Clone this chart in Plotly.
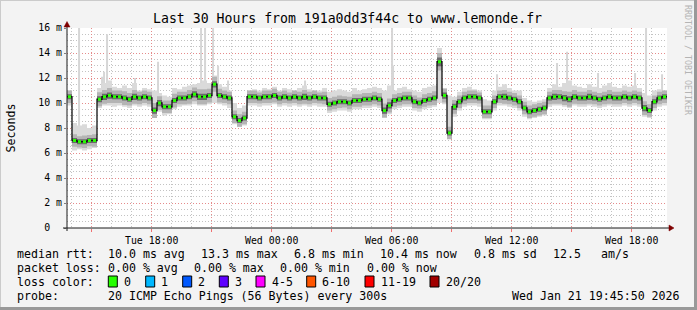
import plotly.graph_objects as go
import pandas as pd

MONO = "DejaVu Sans Mono"

# ---------------- data ----------------
START = "2026-01-20 13:45:50"
END = "2026-01-21 19:45:50"
STEP = "15min"

median_ms = [
    10.5, 7.0, 6.9, 6.9, 7.0, 7.0, 10.3, 10.5, 10.6, 10.5,
    10.5, 10.4, 10.3, 10.5, 10.4, 10.5, 10.4, 9.4, 10.0, 9.7,
    9.7, 10.2, 10.4, 10.4, 10.5, 10.7, 10.5, 10.5, 10.6, 11.5,
    10.6, 10.5, 10.4, 8.9, 8.6, 8.8, 10.5, 10.5, 10.4, 10.5,
    10.5, 10.6, 10.4, 10.5, 10.4, 10.5, 10.4, 10.5, 10.4, 10.5,
    10.4, 10.4, 9.9, 10.0, 10.1, 10.1, 10.0, 10.2, 10.2, 10.3,
    10.3, 10.4, 10.3, 9.4, 9.8, 10.2, 10.3, 10.4, 10.4, 10.1,
    10.0, 10.2, 10.3, 10.4, 13.3, 10.6, 7.6, 9.7, 10.1, 10.4,
    10.5, 10.5, 10.4, 9.3, 9.3, 10.1, 10.5, 10.5, 10.4, 10.3,
    10.1, 9.6, 9.3, 9.4, 9.5, 9.6, 10.4, 10.5, 10.5, 10.4,
    10.3, 10.5, 10.4, 10.4, 10.5, 10.4, 10.3, 10.4, 10.5, 10.4,
    10.4, 10.5, 10.4, 10.5, 10.4, 9.6, 9.4, 10.1, 10.4, 10.5,
]

smoke_max_ms = [
    11.0, 8.4, 8.2, 8.3, 8.0, 8.2, 11.2, 11.6, 11.8, 11.3,
    11.2, 11.4, 11.2, 11.6, 11.0, 11.2, 11.1, 11.0, 10.8, 10.6,
    10.5, 11.2, 11.1, 11.3, 11.4, 11.5, 11.6, 11.8, 11.6, 12.2,
    11.5, 11.3, 11.0, 10.0, 9.6, 9.8, 11.0, 11.1, 11.0, 11.2,
    11.1, 11.3, 11.0, 11.2, 11.1, 11.0, 11.2, 11.4, 11.1, 11.0,
    11.0, 11.2, 10.9, 11.0, 11.1, 11.0, 10.9, 11.2, 11.0, 11.1,
    11.2, 11.3, 11.2, 11.0, 11.4, 11.0, 11.2, 11.3, 11.1, 11.0,
    10.9, 11.2, 11.3, 11.4, 14.4, 11.2, 10.6, 10.5, 10.9, 11.2,
    11.3, 11.1, 11.0, 10.3, 10.2, 11.0, 11.3, 11.5, 11.2, 11.0,
    11.0, 10.4, 10.2, 10.1, 10.2, 10.3, 11.2, 11.5, 11.3, 11.6,
    11.8, 11.4, 11.3, 11.2, 11.5, 11.3, 11.2, 11.4, 11.6, 11.3,
    11.2, 11.4, 11.3, 11.4, 11.2, 10.8, 10.6, 11.0, 11.1, 11.0,
]

smoke_min_ms = [
    9.8, 6.2, 6.3, 6.2, 6.3, 6.4, 9.6, 9.8, 9.8, 9.7,
    9.8, 9.7, 9.6, 9.8, 9.7, 9.8, 9.7, 8.9, 9.3, 9.0,
    9.1, 9.5, 9.7, 9.8, 9.8, 9.9, 9.8, 9.8, 9.9, 10.0,
    9.9, 9.8, 9.6, 8.3, 8.1, 8.2, 9.8, 9.8, 9.7, 9.8,
    9.8, 9.9, 9.7, 9.8, 9.7, 9.8, 9.7, 9.8, 9.7, 9.8,
    9.7, 9.7, 9.2, 9.3, 9.4, 9.4, 9.3, 9.5, 9.5, 9.6,
    9.6, 9.7, 9.6, 8.8, 9.1, 9.5, 9.6, 9.7, 9.7, 9.4,
    9.3, 9.5, 9.6, 9.7, 10.0, 9.9, 7.2, 8.9, 9.4, 9.7,
    9.8, 9.8, 9.7, 8.7, 8.7, 9.4, 9.8, 9.8, 9.7, 9.6,
    9.4, 8.9, 8.7, 8.8, 8.9, 9.0, 9.7, 9.8, 9.8, 9.7,
    9.6, 9.8, 9.7, 9.7, 9.8, 9.7, 9.6, 9.7, 9.8, 9.7,
    9.7, 9.8, 9.7, 9.8, 9.7, 8.9, 8.8, 9.4, 9.7, 9.8,
]

# half-width of the medium-grey smoke band around the median
mid_spread_ms = [
    0.5, 0.5, 0.45, 0.5, 0.45, 0.5, 0.55, 0.55, 0.6, 0.5,
    0.5, 0.55, 0.5, 0.55, 0.5, 0.5, 0.5, 0.6, 0.55, 0.5,
    0.5, 0.55, 0.5, 0.5, 0.55, 0.55, 0.6, 0.6, 0.55, 0.6,
    0.55, 0.5, 0.5, 0.5, 0.5, 0.5, 0.5, 0.5, 0.45, 0.5,
    0.5, 0.55, 0.5, 0.5, 0.45, 0.5, 0.5, 0.55, 0.5, 0.5,
    0.45, 0.5, 0.5, 0.5, 0.5, 0.45, 0.5, 0.5, 0.5, 0.5,
    0.5, 0.5, 0.5, 0.55, 0.55, 0.5, 0.5, 0.5, 0.5, 0.5,
    0.45, 0.5, 0.5, 0.55, 0.7, 0.55, 0.5, 0.55, 0.5, 0.5,
    0.5, 0.5, 0.45, 0.5, 0.5, 0.5, 0.5, 0.55, 0.5, 0.5,
    0.5, 0.5, 0.5, 0.5, 0.5, 0.5, 0.5, 0.55, 0.55, 0.55,
    0.6, 0.55, 0.5, 0.5, 0.55, 0.5, 0.5, 0.5, 0.55, 0.5,
    0.5, 0.5, 0.5, 0.5, 0.5, 0.55, 0.5, 0.5, 0.5, 0.5,
]

# half-width of the dark smoke core around the median
core_spread_ms = [
    0.2, 0.2, 0.2, 0.2, 0.2, 0.2, 0.25, 0.25, 0.25, 0.2,
    0.2, 0.2, 0.2, 0.25, 0.2, 0.2, 0.2, 0.25, 0.25, 0.2,
    0.2, 0.2, 0.2, 0.2, 0.2, 0.25, 0.25, 0.25, 0.2, 0.25,
    0.2, 0.2, 0.2, 0.2, 0.2, 0.2, 0.2, 0.2, 0.2, 0.2,
    0.2, 0.2, 0.2, 0.2, 0.2, 0.2, 0.2, 0.25, 0.2, 0.2,
    0.2, 0.2, 0.2, 0.2, 0.2, 0.2, 0.2, 0.2, 0.2, 0.2,
    0.2, 0.2, 0.2, 0.25, 0.25, 0.2, 0.2, 0.2, 0.2, 0.2,
    0.2, 0.2, 0.2, 0.2, 0.35, 0.25, 0.2, 0.25, 0.2, 0.2,
    0.2, 0.2, 0.2, 0.2, 0.2, 0.2, 0.2, 0.25, 0.2, 0.2,
    0.2, 0.2, 0.2, 0.2, 0.2, 0.2, 0.2, 0.25, 0.2, 0.25,
    0.25, 0.2, 0.2, 0.2, 0.25, 0.2, 0.2, 0.2, 0.2, 0.2,
    0.2, 0.2, 0.2, 0.2, 0.2, 0.25, 0.2, 0.2, 0.2, 0.2,
]

spike_time = [
    "2026-01-20 14:22", "2026-01-20 15:31", "2026-01-20 15:37", "2026-01-20 15:46",
    "2026-01-20 17:10", "2026-01-20 18:19", "2026-01-20 20:28", "2026-01-20 20:40",
    "2026-01-20 21:04", "2026-01-20 21:19", "2026-01-20 21:49", "2026-01-21 01:40",
    "2026-01-21 06:01", "2026-01-21 06:04", "2026-01-21 11:16", "2026-01-21 14:16",
    "2026-01-21 14:46", "2026-01-21 16:19", "2026-01-21 18:10", "2026-01-21 18:43",
    "2026-01-21 19:31",
]
spike_base_ms = [8.0, 10.5, 10.5, 10.5, 10.4, 10.2, 10.5, 10.5, 10.6, 10.6, 10.4,
                 10.4, 9.6, 9.8, 10.5, 10.5, 10.4, 10.5, 10.4, 9.6, 10.5]
spike_top_ms = [16.0, 12.1, 12.5, 15.5, 12.0, 13.3, 16.0, 16.0, 16.0, 13.0, 11.8,
                11.8, 16.0, 13.0, 12.3, 13.2, 14.1, 12.4, 12.4, 16.0, 12.3]

x_tickvals = ["2026-01-20 15:00", "2026-01-20 18:00", "2026-01-20 21:00",
              "2026-01-21 00:00", "2026-01-21 03:00", "2026-01-21 06:00",
              "2026-01-21 09:00", "2026-01-21 12:00", "2026-01-21 15:00",
              "2026-01-21 18:00"]
x_ticktext = ["", "Tue 18:00", "", "Wed 00:00", "", "Wed 06:00", "",
              "Wed 12:00", "", "Wed 18:00"]
y_tickvals = [0, 2, 4, 6, 8, 10, 12, 14, 16]
y_ticktext = ["0\u00a0\u00a0", "2 m", "4 m", "6 m", "8 m", "10 m", "12 m", "14 m", "16 m"]

title_text = "Last 30 Hours from 191a0dd3f44c to www.lemonde.fr"
y_title = "Seconds"
watermark = "RRDTOOL / TOBI OETIKER"

rtt_labels = ["median rtt:", "10.0 ms avg", "13.3 ms max", "6.8 ms min",
              "10.4 ms now", "0.8 ms sd", "12.5", "am/s"]
loss_text = ["packet loss:", "0.00 % avg", "0.00 % max", "0.00 % min", "0.00 % now"]
loss_color_title = "loss color:"
loss_labels = ["0", "1", "2", "3", "4-5", "6-10", "11-19", "20/20"]
loss_colors = ["#26ff00", "#00b8ff", "#0059ff", "#5e00ff", "#ff00ff", "#ff5500",
               "#ff0000", "#a10000"]
probe_text = ["probe:", "20 ICMP Echo Pings (56 Bytes) every 300s"]
stamp_text = "Wed Jan 21 19:45:50 2026"

# ---------------- layout geometry (pixels) ----------------
L, T, W, H = 67, 28, 600, 200


def px(x):
    return (x - L) / W


def py(y):
    return (T + H - y) / H


times = list(pd.date_range(START, periods=len(median_ms), freq=STEP))
t_end = pd.Timestamp(END)
xs = times + [t_end]


def ext(v):
    return list(v) + [v[-1]]


mid_lo = [m - s for m, s in zip(median_ms, mid_spread_ms)]
mid_hi = [m + s for m, s in zip(median_ms, mid_spread_ms)]
core_lo = [m - s for m, s in zip(median_ms, core_spread_ms)]
core_hi = [m + s for m, s in zip(median_ms, core_spread_ms)]
centers = [t + pd.Timedelta(minutes=7.5) for t in times]

fig = go.Figure()

# spikes
sx, sy = [], []
for t, b, tp in zip(spike_time, spike_base_ms, spike_top_ms):
    sx += [t, t, None]
    sy += [b, tp, None]
fig.add_trace(go.Scatter(x=sx, y=sy, mode="lines", line=dict(color="#d6d6d6", width=2),
                         hoverinfo="skip", showlegend=False))


def band(lo, hi, color):
    fig.add_trace(go.Scatter(x=xs, y=ext(lo), mode="lines", line=dict(width=0, shape="hv"),
                             hoverinfo="skip", showlegend=False))
    fig.add_trace(go.Scatter(x=xs, y=ext(hi), mode="lines", line=dict(width=0, shape="hv"),
                             fill="tonexty", fillcolor=color, hoverinfo="skip",
                             showlegend=False))


band(smoke_min_ms, smoke_max_ms, "#dadada")
band(mid_lo, mid_hi, "#b4b4b4")
band(core_lo, core_hi, "#6a6a6a")

# median line
fig.add_trace(go.Scatter(x=xs, y=ext(median_ms), mode="lines",
                         line=dict(color="#111111", width=1.3, shape="hv"),
                         hoverinfo="skip", showlegend=False))
# loss colour markers
fig.add_trace(go.Scatter(x=centers, y=median_ms, mode="markers",
                         marker=dict(symbol="square", size=3, color=loss_colors[0],
                                     line=dict(width=0)),
                         hoverinfo="skip", showlegend=False))

annotations = []


def text(x, y, s, size=11.6, anchor="left", color="#000000", angle=0):
    annotations.append(dict(x=px(x), y=py(y), xref="paper", yref="paper", text=s,
                            showarrow=False, xanchor=anchor, yanchor="middle",
                            textangle=angle, borderpad=0,
                            font=dict(family=MONO, size=size, color=color)))


text(347, 18.5, title_text, size=13.2, anchor="center")
text(10.5, 128, y_title, size=11.6, anchor="center", angle=-90)
text(688, 60, watermark, size=8.3, anchor="center", color="#b4b4b4", angle=90)

row1_x = [16, 107, 200, 293, 379, 473, 552, 600]
for x, s in zip(row1_x, rtt_labels):
    text(x, 254, s)
row2_x = [16, 107, 193, 279, 366]
for x, s in zip(row2_x, loss_text):
    text(x, 268, s)
text(16, 282, loss_color_title)
box_x = [108.3, 145.7, 182.7, 219.3, 256, 306.7, 365, 430]
shapes = []
for bx, lab, col in zip(box_x, loss_labels, loss_colors):
    shapes.append(dict(type="rect", xref="paper", yref="paper",
                       x0=px(bx), x1=px(bx + 9), y0=py(287), y1=py(276),
                       fillcolor=col, line=dict(color="#000000", width=1)))
    text(bx + 14.5, 282, lab)
text(16, 296, probe_text[0])
text(107, 296, probe_text[1])
text(681, 296, stamp_text, anchor="right")

# axis lines + arrows
AX = "#1a1a1a"
shapes.append(dict(type="line", xref="paper", yref="paper", x0=px(63), x1=px(670),
                   y0=py(228), y1=py(228), line=dict(color=AX, width=1)))
shapes.append(dict(type="line", xref="paper", yref="paper", x0=px(67), x1=px(67),
                   y0=py(231), y1=py(24), line=dict(color=AX, width=1)))
shapes.append(dict(type="path", xref="paper", yref="paper",
                   path=f"M {px(669)},{py(225)} L {px(674)},{py(228)} L {px(669)},{py(231)} Z",
                   fillcolor="#7f0000", line=dict(color="#7f0000", width=0.5)))
shapes.append(dict(type="path", xref="paper", yref="paper",
                   path=f"M {px(64)},{py(27)} L {px(67)},{py(21.5)} L {px(70)},{py(27)} Z",
                   fillcolor="#7f0000", line=dict(color="#7f0000", width=0.5)))
# frame
shapes.append(dict(type="line", xref="paper", yref="paper", x0=px(0), x1=px(697),
                   y0=py(0.5), y1=py(0.5), line=dict(color="#cbcbcb", width=1)))
shapes.append(dict(type="line", xref="paper", yref="paper", x0=px(0.5), x1=px(0.5),
                   y0=py(0), y1=py(310), line=dict(color="#cbcbcb", width=1)))
shapes.append(dict(type="line", xref="paper", yref="paper", x0=px(0), x1=px(697),
                   y0=py(308.5), y1=py(308.5), line=dict(color="#999999", width=3)))
shapes.append(dict(type="line", xref="paper", yref="paper", x0=px(695.5), x1=px(695.5),
                   y0=py(0), y1=py(310), line=dict(color="#999999", width=3)))

RED_GRID = "rgba(240,120,120,0.75)"
GREY_GRID = "rgba(175,175,175,0.75)"

fig.update_layout(
    width=697, height=310,
    margin=dict(l=L, r=697 - L - W, t=T, b=310 - T - H),
    paper_bgcolor="#f3f3f3", plot_bgcolor="#ffffff",
    showlegend=False,
    annotations=annotations, shapes=shapes,
    xaxis=dict(type="date", range=[START, END], tickmode="array",
               tickvals=x_tickvals, ticktext=x_ticktext,
               showgrid=True, gridcolor=RED_GRID, griddash="1px,2px", gridwidth=1,
               ticks="outside", ticklen=3, tickcolor="#f07070",
               tickfont=dict(family=MONO, size=9.9, color="#000000"),
               minor=dict(dtick=3600000, tick0="2026-01-20 00:00", showgrid=True,
                          gridcolor=GREY_GRID, griddash="1px,2px", gridwidth=1),
               showline=False, zeroline=False, layer="above traces", fixedrange=True),
    yaxis=dict(range=[0, 16], tickmode="array", tickvals=y_tickvals, ticktext=y_ticktext,
               showgrid=True, gridcolor=RED_GRID, griddash="1px,2px", gridwidth=1,
               ticks="outside", ticklen=2, tickcolor="#808080",
               tickfont=dict(family=MONO, size=9.9, color="#000000"),
               minor=dict(dtick=0.5, tick0=0, showgrid=True, gridcolor=GREY_GRID,
                          griddash="1px,2px", gridwidth=1),
               showline=False, zeroline=False, layer="above traces", fixedrange=True),
)

fig.write_html("out.html")
